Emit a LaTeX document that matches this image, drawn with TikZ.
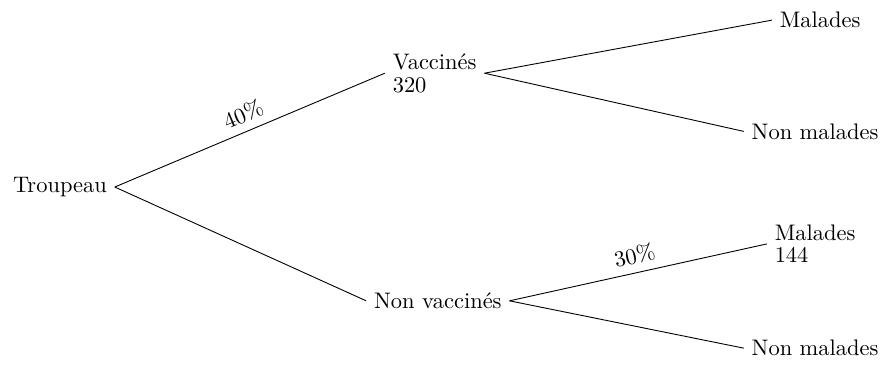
\documentclass[tikz,border=0pt]{standalone}
\usepackage{tikz}
\begin{document}
\begin{tikzpicture}[x=1cm,y=1cm,
  noeud/.style={align=left},
  proba/.style={midway,above,sloped}]
  % 边界
  \useasboundingbox (-0.938,-2.925) rectangle (12.888,2.925);
  % 节点
  \node (T) at (0,0) {Troupeau};
  \node[noeud] (V)  at (5.86,1.78)  {Vaccinés\\[-2pt]320};
  \node[noeud] (NV) at (5.91,-1.78) {Non vaccinés};
  \node[noeud] (VM)  at (11.89,2.61)  {Malades};
  \node[noeud] (VNM) at (11.81,0.87)  {Non malades};
  \node[noeud] (NVM)  at (11.81,-0.89) {Malades\\[-2pt]144};
  \node[noeud] (NVNM) at (11.81,-2.52) {Non malades};
  % 树枝
  \draw (T.east) -- (V.west) node[proba]{40\%};
  \draw (T.east) -- (NV.west);
  \draw (V.east) -- (VM.west);
  \draw (V.east) -- (VNM.west);
  \draw (NV.east) -- (NVM.west) node[proba]{30\%};
  \draw (NV.east) -- (NVNM.west);
\end{tikzpicture}
\end{document}
